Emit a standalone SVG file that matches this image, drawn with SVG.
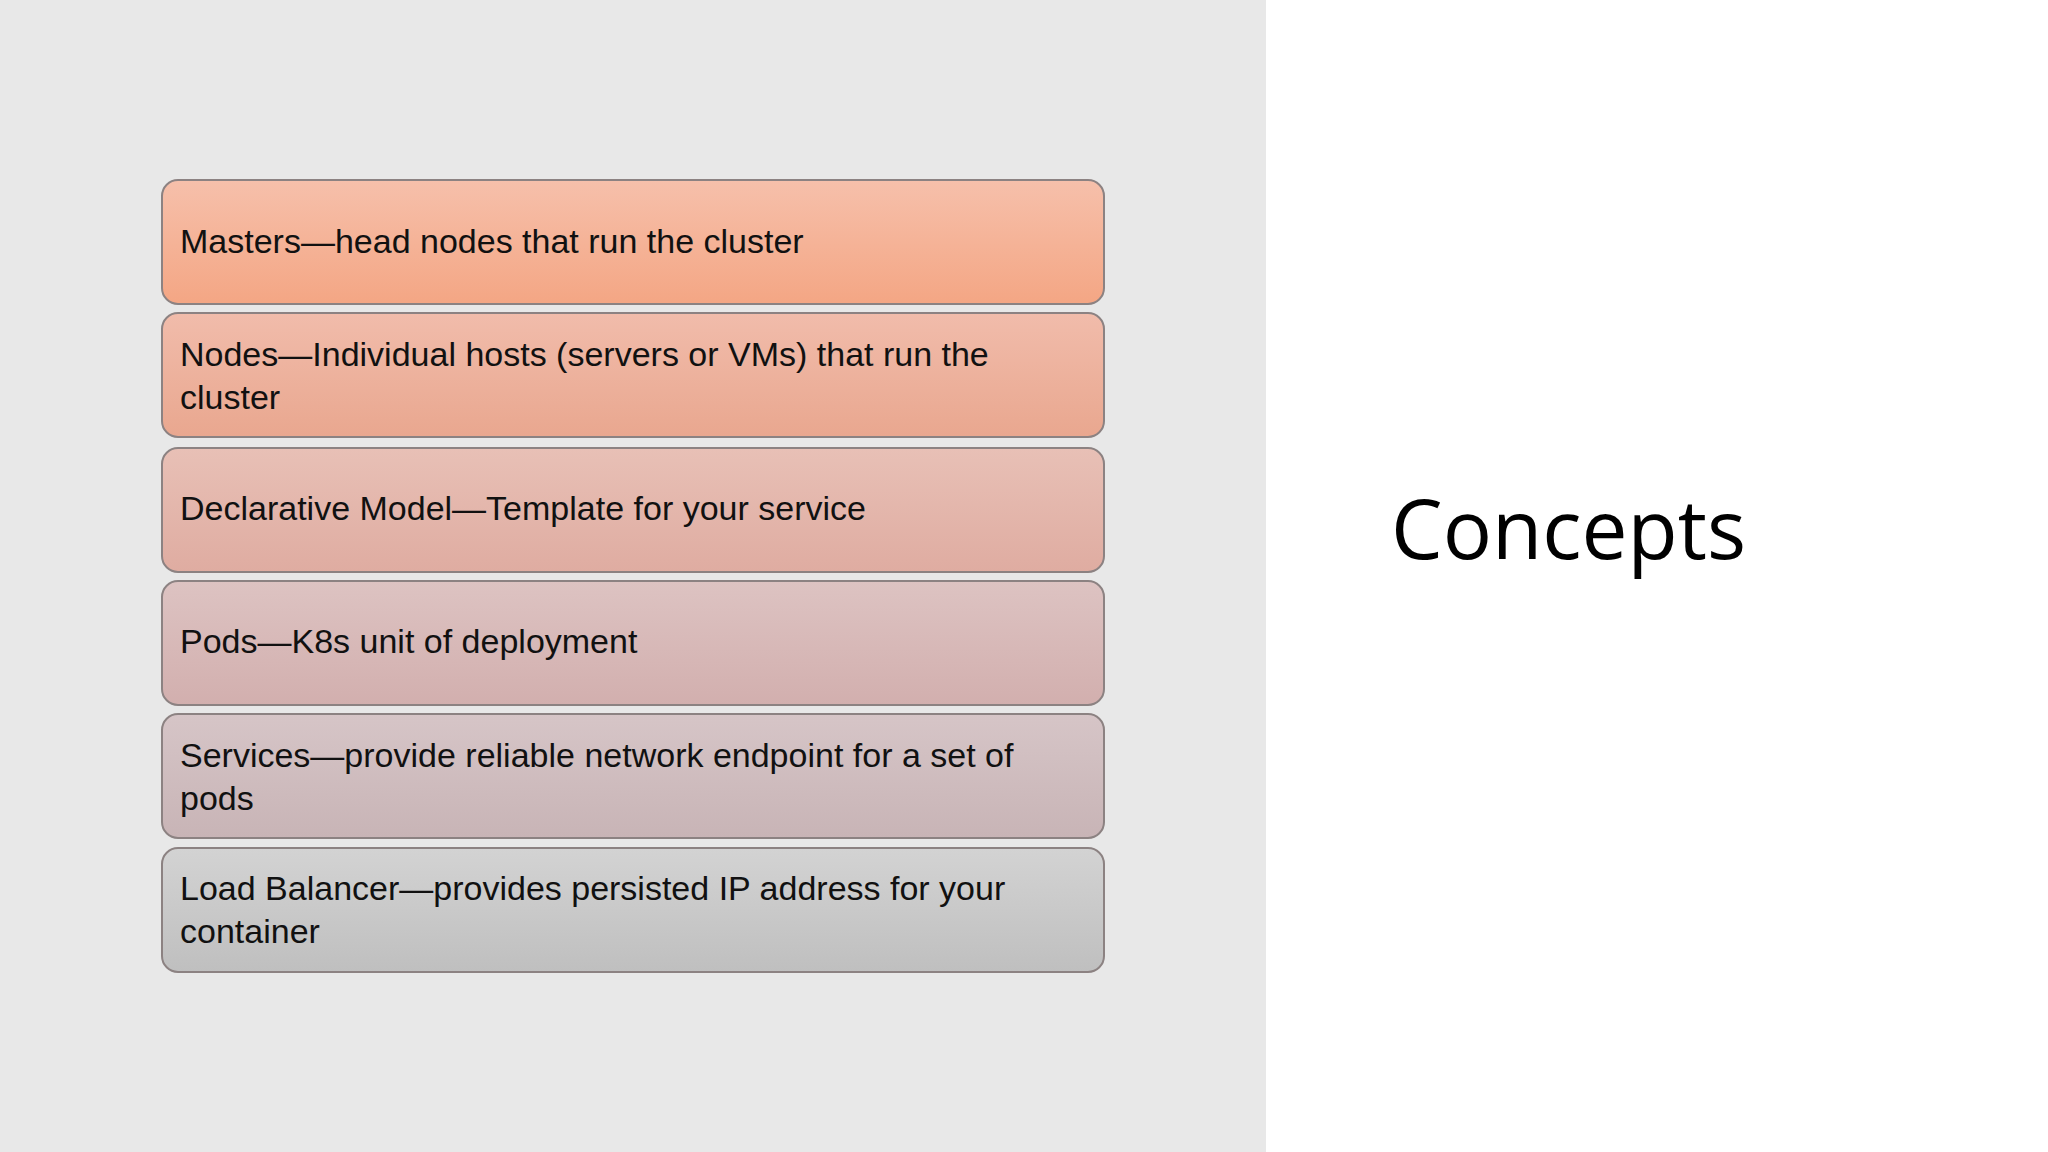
<svg xmlns="http://www.w3.org/2000/svg" width="2048" height="1152" viewBox="0 0 2048 1152">
<defs>
<linearGradient id="g1" x1="0" y1="0" x2="0" y2="1"><stop offset="0" stop-color="#f6c0ab"/><stop offset="1" stop-color="#f4a684"/></linearGradient>
<linearGradient id="g2" x1="0" y1="0" x2="0" y2="1"><stop offset="0" stop-color="#f1bcab"/><stop offset="1" stop-color="#e9a78f"/></linearGradient>
<linearGradient id="g3" x1="0" y1="0" x2="0" y2="1"><stop offset="0" stop-color="#e8c0b6"/><stop offset="1" stop-color="#dfaca1"/></linearGradient>
<linearGradient id="g4" x1="0" y1="0" x2="0" y2="1"><stop offset="0" stop-color="#ddc3c2"/><stop offset="1" stop-color="#d2afae"/></linearGradient>
<linearGradient id="g5" x1="0" y1="0" x2="0" y2="1"><stop offset="0" stop-color="#d6c5c7"/><stop offset="1" stop-color="#c8b4b6"/></linearGradient>
<linearGradient id="g6" x1="0" y1="0" x2="0" y2="1"><stop offset="0" stop-color="#d3d3d3"/><stop offset="1" stop-color="#bfbfbf"/></linearGradient>
</defs>
<style>
.box{stroke:#8c8282;stroke-width:2}
.t{font-family:"Liberation Sans","Noto Sans",sans-serif;font-size:34px;fill:#111}
.title{font-family:"Open Sans","Liberation Sans",sans-serif;font-size:82px;fill:#000}
</style>
<rect x="0" y="0" width="2048" height="1152" fill="#ffffff"/>
<rect x="0" y="0" width="1266" height="1152" fill="#e8e8e8"/>
<g id="masters"><rect class="box" x="162" y="180" width="942" height="124" rx="16" fill="url(#g1)"/><text class="t" x="180" y="253">Masters—head nodes that run the cluster</text></g>
<g id="nodes"><rect class="box" x="162" y="313" width="942" height="124" rx="16" fill="url(#g2)"/><text class="t" x="180" y="366">Nodes—Individual hosts (servers or VMs) that run the</text><text class="t" x="180" y="409">cluster</text></g>
<g id="declarative"><rect class="box" x="162" y="448" width="942" height="124" rx="16" fill="url(#g3)"/><text class="t" x="180" y="520">Declarative Model—Template for your service</text></g>
<g id="pods"><rect class="box" x="162" y="581" width="942" height="124" rx="16" fill="url(#g4)"/><text class="t" x="180" y="653">Pods—K8s unit of deployment</text></g>
<g id="services"><rect class="box" x="162" y="714" width="942" height="124" rx="16" fill="url(#g5)"/><text class="t" x="180" y="767">Services—provide reliable network endpoint for a set of</text><text class="t" x="180" y="810">pods</text></g>
<g id="loadbalancer"><rect class="box" x="162" y="848" width="942" height="124" rx="16" fill="url(#g6)"/><text class="t" x="180" y="900">Load Balancer—provides persisted IP address for your</text><text class="t" x="180" y="943">container</text></g>
<g id="connectors"></g>
<text class="title" x="1391" y="559">Concepts</text>
</svg>
